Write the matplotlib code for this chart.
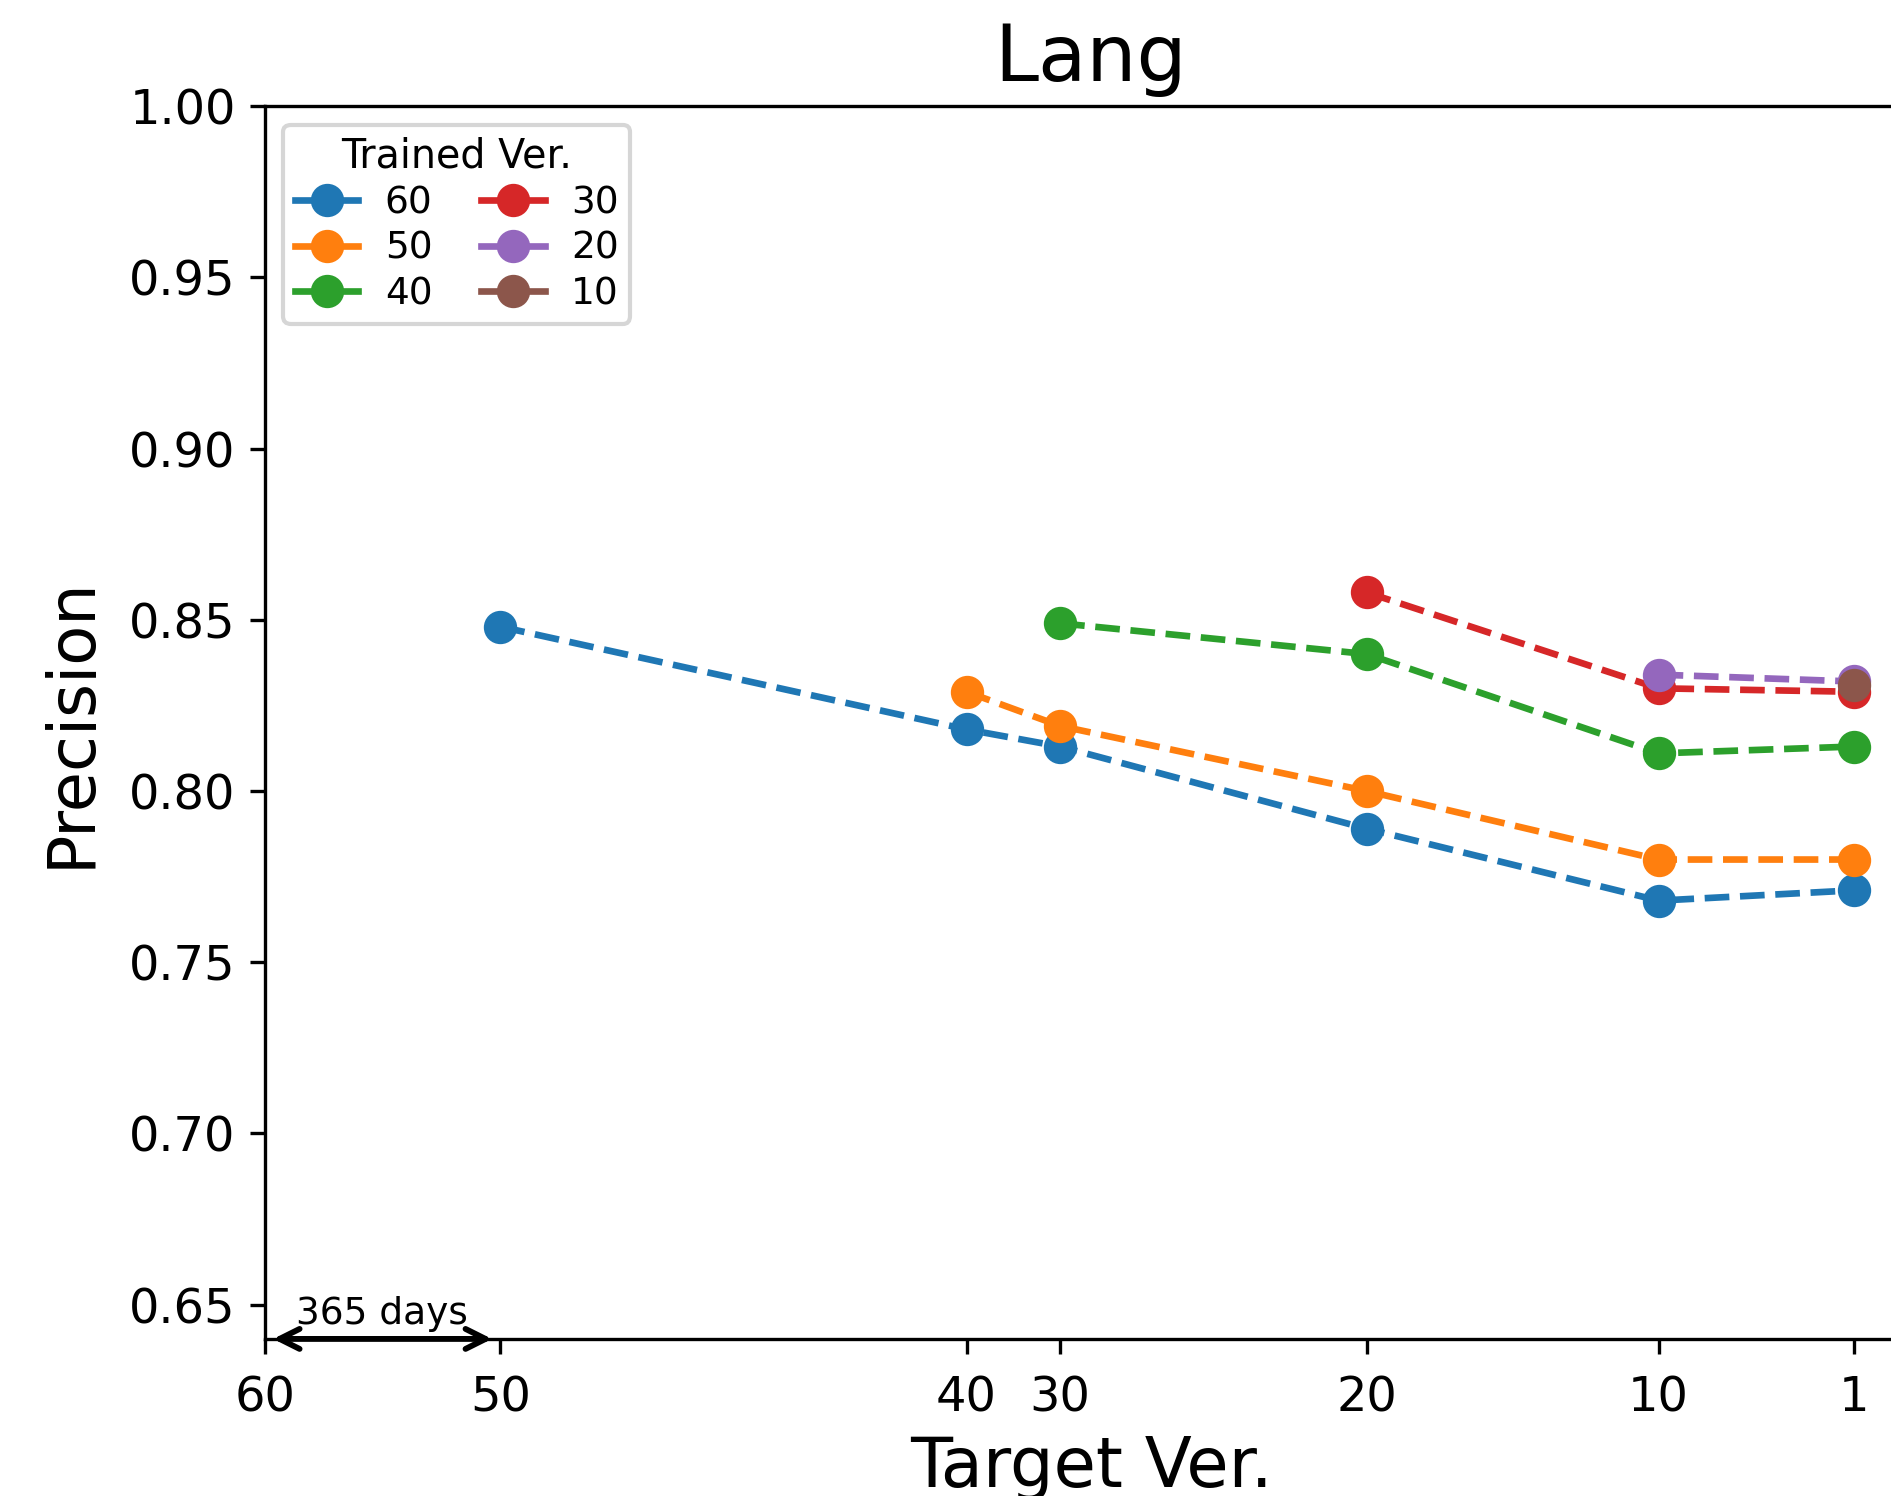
import matplotlib
matplotlib.use("Agg")
import matplotlib.pyplot as plt

# target versions and where they sit on the axis (days after version 60)
target_labels = ["60", "50", "40", "30", "20", "10", "1"]
target_days = [0, 365, 1087, 1232, 1707, 2159, 2461]

# precision per trained version (starts at the version itself)
trained = ["60", "50", "40", "30", "20", "10"]
prec_60 = [0.848, 0.818, 0.813, 0.789, 0.768, 0.771]
prec_50 = [0.829, 0.819, 0.800, 0.780, 0.780]
prec_40 = [0.849, 0.840, 0.811, 0.813]
prec_30 = [0.858, 0.830, 0.829]
prec_20 = [0.834, 0.832]
prec_10 = [0.831]
series = [prec_60, prec_50, prec_40, prec_30, prec_20, prec_10]

fig = plt.figure(figsize=(1891 / 300, 1496 / 300), dpi=300)
ax = fig.add_axes([0.140, 0.105, 0.874, 0.824])

for name, vals in zip(trained, series):
    xs = target_days[len(target_days) - len(vals):]
    ax.plot(xs, vals, "--o", lw=1.6, markersize=7, label=name)

ax.set_xlim(0, 2560)
ax.set_ylim(0.64, 1.0)
ax.set_xticks(target_days)
ax.set_xticklabels(target_labels)
ax.set_yticks([0.65, 0.70, 0.75, 0.80, 0.85, 0.90, 0.95, 1.00])
ax.tick_params(labelsize=11.5)
ax.tick_params(axis="x", pad=5)

ax.annotate("", xy=(0, 0.64), xytext=(365, 0.64),
            arrowprops=dict(arrowstyle="<->", color="black", lw=1.4,
                            mutation_scale=12),
            annotation_clip=False)
ax.text(182, 0.642, "365 days", ha="center", va="bottom", fontsize=9)

ax.set_title("Lang", fontsize=19)
ax.set_xlabel("Target Ver.", fontsize=16.5, labelpad=3)
ax.set_ylabel("Precision", fontsize=15.7, labelpad=6)
leg = ax.legend(title="Trained Ver.", ncol=2, loc="upper left", fontsize=9,
                title_fontsize=9.5, columnspacing=1.3, labelspacing=0.25,
                handlelength=1.7, handletextpad=0.7, borderpad=0.3)
for h in leg.get_lines():
    h.set_linestyle("-")

fig.savefig("out.png", dpi=300)
